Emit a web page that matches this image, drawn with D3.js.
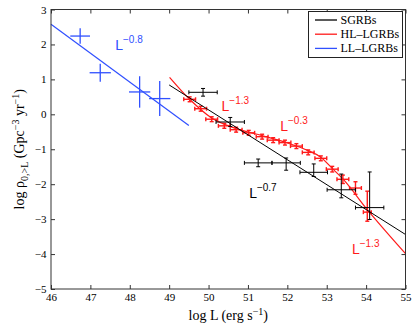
<!DOCTYPE html>
<html>
<head>
<meta charset="utf-8">
<script src="https://cdn.jsdelivr.net/npm/d3@7"></script>
<style>
  body { margin: 0; background: #fff; }
  svg { display: block; }
</style>
</head>
<body>
<div id="chart"></div>
<script>
// SGRBs (black)
var sgrbL = [49.86, 50.55, 51.26, 51.97, 52.67, 53.37, 54.09];
var sgrbRate = [0.63, -0.22, -1.39, -1.39, -1.66, -2.16, -2.67];
var sgrbLErr = [0.36, 0.36, 0.35, 0.36, 0.35, 0.36, 0.36];
var sgrbErrUp = [0.11, 0.13, 0.11, 0.14, 0.24, 0.45, 1.02];
var sgrbErrDown = [0.11, 0.13, 0.11, 0.21, 0.12, 0.23, 0.34];

// HL-LGRBs (red)
var hlL = [49.52, 49.80, 50.08, 50.40, 50.70, 51.02, 51.36, 51.64, 51.94, 52.23, 52.53, 52.85, 53.14, 53.41, 53.73, 54.03];
var hlRate = [0.43, 0.16, -0.14, -0.33, -0.44, -0.53, -0.64, -0.74, -0.81, -0.91, -1.09, -1.26, -1.57, -1.86, -2.11, -2.80];
var hlLErr = [0.15, 0.15, 0.15, 0.15, 0.15, 0.15, 0.15, 0.15, 0.15, 0.15, 0.15, 0.15, 0.15, 0.15, 0.15, 0.1];
var hlErrUp = [0.07, 0.07, 0.07, 0.07, 0.07, 0.07, 0.07, 0.07, 0.07, 0.07, 0.07, 0.07, 0.08, 0.12, 0.18, 0.6];
var hlErrDown = [0.07, 0.07, 0.07, 0.07, 0.07, 0.07, 0.07, 0.07, 0.07, 0.07, 0.07, 0.07, 0.08, 0.12, 0.18, 0.26];

// LL-LGRBs (blue)
var llL = [46.74, 47.25, 48.25, 48.76];
var llRate = [2.24, 1.19, 0.64, 0.45];
var llLErr = [0.25, 0.27, 0.27, 0.27];
var llRateErr = [0.22, 0.26, 0.45, 0.5];

// fitted curves
var sgrbFitL = [49, 55];
var sgrbFitRate = [0.84, -3.44];
var llFitL = [46, 49.5];
var llFitRate = [2.58, -0.32];
var hlFitL = [49.01, 49.52, 50.07, 50.70, 51.36, 51.92, 52.53, 52.84, 53.16, 53.41, 54.03, 55.0];
var hlFitRate = [1.06, 0.43, -0.10, -0.41, -0.61, -0.79, -1.04, -1.22, -1.57, -1.85, -2.73, -3.99];

var xTicks = [46, 47, 48, 49, 50, 51, 52, 53, 54, 55];
var yTicks = [-5, -4, -3, -2, -1, 0, 1, 2, 3];

var seriesNames = ["SGRBs", "HL\u2013LGRBs", "LL\u2013LGRBs"];
var seriesColors = ["#000000", "#ff1a1a", "#3050ff"];

var width = 415, height = 328;
var margin = {top: 9.5, right: 9.5, bottom: 39, left: 51};
var w = width - margin.left - margin.right;
var h = height - margin.top - margin.bottom;

var svg = d3.select("#chart").append("svg")
    .attr("width", width)
    .attr("height", height);

var g = svg.append("g")
    .attr("transform", "translate(" + margin.left + "," + margin.top + ")");

var x = d3.scaleLinear().domain([46, 55]).range([0, w]);
var y = d3.scaleLinear().domain([-5, 3]).range([h, 0]);

var fmt = function(d) { return d < 0 ? "\u2212" + Math.abs(d) : String(d); };

function styleAxis(sel) {
    sel.attr("font-family", "'Liberation Serif', 'Times New Roman', serif");
    sel.select(".domain").remove();
    sel.selectAll("line").attr("stroke", "#333");
    sel.selectAll("text")
        .attr("font-family", "'Liberation Serif', 'Times New Roman', serif")
        .attr("font-size", "11px")
        .attr("fill", "#000");
}

g.append("g").attr("transform", "translate(0," + h + ")")
    .call(d3.axisBottom(x).tickValues(xTicks).tickFormat(fmt).tickSizeInner(-4).tickSizeOuter(0).tickPadding(4))
    .call(styleAxis);
g.append("g")
    .call(d3.axisTop(x).tickValues(xTicks).tickFormat("").tickSizeInner(-4).tickSizeOuter(0))
    .call(styleAxis);
g.append("g")
    .call(d3.axisLeft(y).tickValues(yTicks).tickFormat(fmt).tickSizeInner(-4).tickSizeOuter(0).tickPadding(4.5))
    .call(styleAxis);
g.append("g").attr("transform", "translate(" + w + ",0)")
    .call(d3.axisRight(y).tickValues(yTicks).tickFormat("").tickSizeInner(-4).tickSizeOuter(0))
    .call(styleAxis);

var line = d3.line()
    .x(function(d) { return x(d[0]); })
    .y(function(d) { return y(d[1]); });

var plot = g.append("g");

function drawCrosses(xs, ys, xErr, up, down, color, width, cap) {
    var grp = plot.append("g").attr("stroke", color).attr("stroke-width", width).attr("fill", "none");
    xs.forEach(function(v, i) {
        var cx = x(v), cy = y(ys[i]);
        var x0 = x(v - xErr[i]), x1 = x(v + xErr[i]);
        var y0 = y(ys[i] + up[i]), y1 = y(ys[i] - down[i]);
        grp.append("line").attr("x1", x0).attr("x2", x1).attr("y1", cy).attr("y2", cy);
        grp.append("line").attr("x1", cx).attr("x2", cx).attr("y1", y0).attr("y2", y1);
        if (cap > 0) {
            grp.append("line").attr("x1", x0).attr("x2", x0).attr("y1", cy - cap).attr("y2", cy + cap);
            grp.append("line").attr("x1", x1).attr("x2", x1).attr("y1", cy - cap).attr("y2", cy + cap);
            grp.append("line").attr("x1", cx - cap).attr("x2", cx + cap).attr("y1", y0).attr("y2", y0);
            grp.append("line").attr("x1", cx - cap).attr("x2", cx + cap).attr("y1", y1).attr("y2", y1);
        }
    });
}

// LL-LGRBs
plot.append("path")
    .datum(d3.zip(llFitL, llFitRate))
    .attr("d", line)
    .attr("fill", "none").attr("stroke", seriesColors[2]).attr("stroke-width", 1.2);
drawCrosses(llL, llRate, llLErr, llRateErr, llRateErr, seriesColors[2], 1.3, 0);

// HL-LGRBs
plot.append("path")
    .datum(d3.zip(hlFitL, hlFitRate))
    .attr("d", line.curve(d3.curveMonotoneX))
    .attr("fill", "none").attr("stroke", seriesColors[1]).attr("stroke-width", 1.2);
line.curve(d3.curveLinear);
drawCrosses(hlL, hlRate, hlLErr, hlErrUp, hlErrDown, seriesColors[1], 1.4, 2);

// SGRBs
plot.append("path")
    .datum(d3.zip(sgrbFitL, sgrbFitRate))
    .attr("d", line)
    .attr("fill", "none").attr("stroke", seriesColors[0]).attr("stroke-width", 1);
drawCrosses(sgrbL, sgrbRate, sgrbLErr, sgrbErrUp, sgrbErrDown, seriesColors[0], 1, 2);

// frame
g.append("rect").attr("width", w).attr("height", h)
    .attr("fill", "none").attr("stroke", "#333").attr("stroke-width", 1);

// power-law annotations
var notes = [
    {L: 47.63, r: 1.85, exp: "\u22120.8", color: seriesColors[2]},
    {L: 50.33, r: 0.1, exp: "\u22121.3", color: seriesColors[1]},
    {L: 51.82, r: -0.47, exp: "\u22120.3", color: seriesColors[1]},
    {L: 51.03, r: -2.4, exp: "\u22120.7", color: seriesColors[0]},
    {L: 53.64, r: -4.0, exp: "\u22121.3", color: seriesColors[1]}
];
notes.forEach(function(n) {
    var t = g.append("text")
        .attr("x", x(n.L)).attr("y", y(n.r))
        .attr("font-family", "'Liberation Sans', Arial, sans-serif")
        .attr("font-size", "14px")
        .attr("fill", n.color);
    t.append("tspan").text("L");
    t.append("tspan").attr("dy", -7).attr("font-size", "10px").text(n.exp);
});

// legend
var lg = g.append("g").attr("transform", "translate(" + (308.5 - margin.left) + "," + (11.5 - margin.top) + ")");
lg.append("rect").attr("width", 94).attr("height", 46)
    .attr("fill", "#fff").attr("stroke", "#222").attr("stroke-width", 1);
seriesNames.forEach(function(name, i) {
    var ry = 8.5 + i * 14.2;
    lg.append("line").attr("x1", 6.5).attr("x2", 28.5).attr("y1", ry).attr("y2", ry)
        .attr("stroke", seriesColors[i]).attr("stroke-width", 1.3);
    lg.append("text").attr("x", 32).attr("y", ry + 4)
        .attr("font-family", "'Liberation Serif', 'Times New Roman', serif")
        .attr("font-size", "12px").attr("fill", "#000")
        .text(name);
});

// axis titles
var xt = svg.append("text")
    .attr("x", margin.left + w / 2).attr("y", 320)
    .attr("text-anchor", "middle")
    .attr("font-family", "'Liberation Serif', 'Times New Roman', serif")
    .attr("font-size", "14px").attr("fill", "#000");
xt.append("tspan").text("log L (erg s");
xt.append("tspan").attr("dy", -5).attr("font-size", "10px").text("\u22121");
xt.append("tspan").attr("dy", 5).text(")");

var yt = svg.append("text")
    .attr("transform", "translate(24," + (margin.top + h / 2) + ") rotate(-90)")
    .attr("text-anchor", "middle")
    .attr("font-family", "'Liberation Serif', 'Times New Roman', serif")
    .attr("font-size", "14px").attr("fill", "#000");
yt.append("tspan").text("log \u03c1");
yt.append("tspan").attr("dy", 4).attr("font-size", "10px").text("0,>L");
yt.append("tspan").attr("dy", -4).text(" (Gpc");
yt.append("tspan").attr("dy", -5).attr("font-size", "10px").text("\u22123");
yt.append("tspan").attr("dy", 5).text(" yr");
yt.append("tspan").attr("dy", -5).attr("font-size", "10px").text("\u22121");
yt.append("tspan").attr("dy", 5).text(")");
</script>
</body>
</html>
